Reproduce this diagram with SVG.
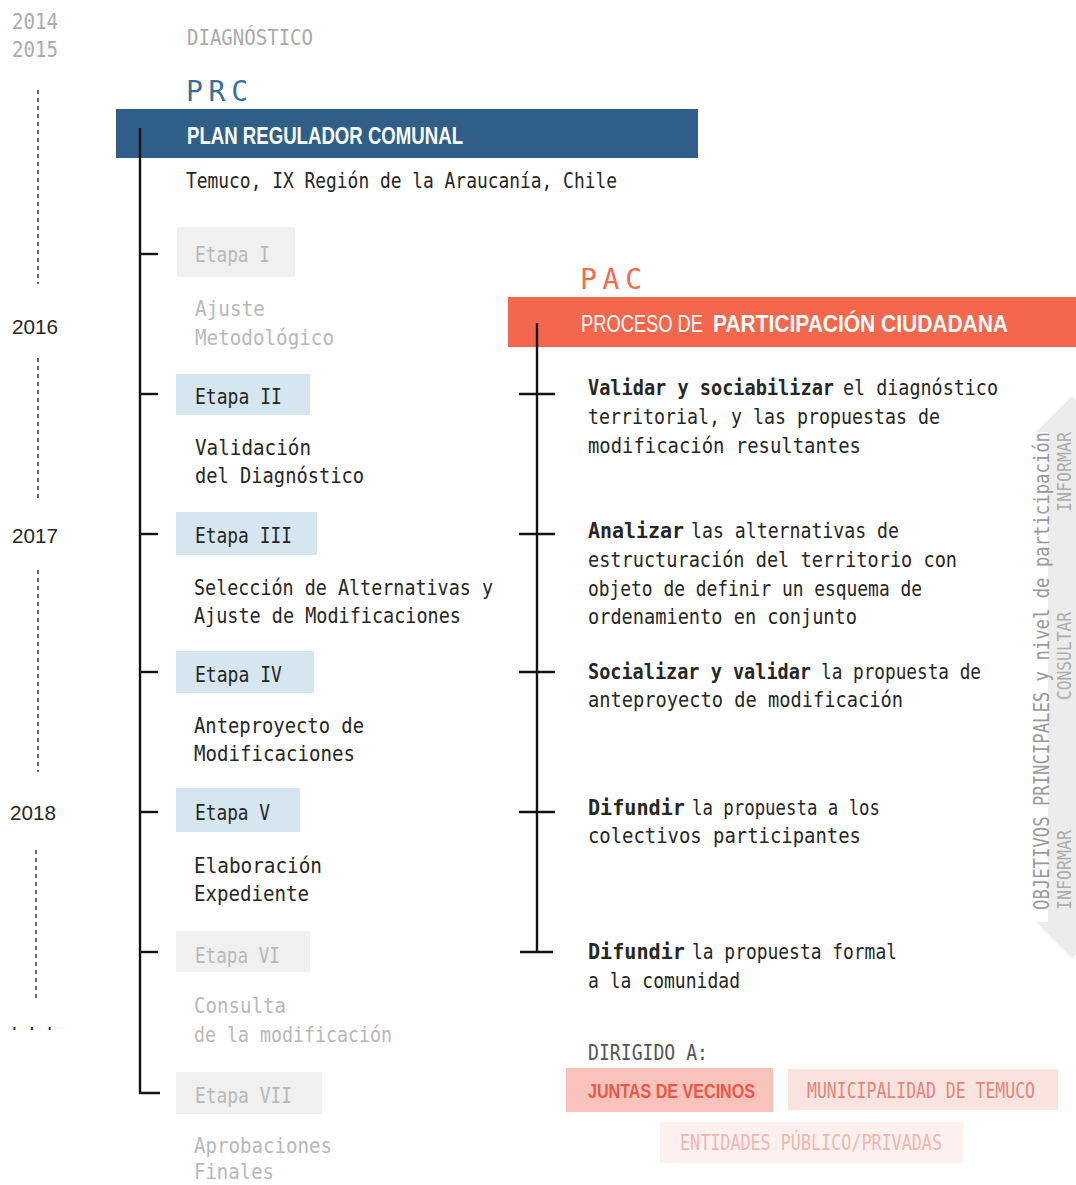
<svg xmlns="http://www.w3.org/2000/svg" width="1076" height="1185" viewBox="0 0 1076 1185">
<style>
.m{font-family:'DejaVu Sans Mono','Liberation Mono',monospace;font-size:22px}
.yr{fill:#aaa}
.dk{fill:#262626}
.lt{fill:#b8b8b8}
.b{font-weight:bold}
.y{font-family:'Liberation Sans','DejaVu Sans',sans-serif;font-size:21px;fill:#262626}
.hd{font-family:'Liberation Sans','DejaVu Sans',sans-serif;font-weight:bold}
.dash{stroke:#444;stroke-width:1.6;stroke-dasharray:4 4;fill:none}
.ln{stroke:#111;stroke-width:2.4;fill:none}
.act{fill:#d5e6f0}
.ina{fill:#f0f0f0}
.sd{font-family:'DejaVu Sans Mono',monospace;font-size:19px;fill:#adadad}
</style>
<rect width="1076" height="1185" fill="#ffffff"/>

<!-- background arrow -->
<polygon points="1072,396 1108,432 1094,432 1094,922 1108,922 1072,958 1036,922 1048,922 1048,432 1036,432" fill="#ececec"/>

<!-- years / timeline -->
<g id="years">
<text class="m yr" x="12" y="29" textLength="46" lengthAdjust="spacingAndGlyphs">2014</text>
<text class="m yr" x="12" y="57" textLength="46" lengthAdjust="spacingAndGlyphs">2015</text>
<text class="y" x="12" y="334" textLength="46" lengthAdjust="spacingAndGlyphs">2016</text>
<text class="y" x="12" y="543" textLength="46" lengthAdjust="spacingAndGlyphs">2017</text>
<text class="y" x="10" y="820" textLength="46" lengthAdjust="spacingAndGlyphs">2018</text>
<text class="m dk" x="10" y="1030" textLength="44" lengthAdjust="spacingAndGlyphs">. . .</text>
<line class="dash" x1="38" y1="90" x2="38" y2="284"/>
<line class="dash" x1="38" y1="358" x2="38" y2="498"/>
<line class="dash" x1="38" y1="570" x2="38" y2="772"/>
<line class="dash" x1="36" y1="850" x2="36" y2="998"/>
</g>

<text class="m yr" x="187" y="45" textLength="126" lengthAdjust="spacingAndGlyphs">DIAGNÓSTICO</text>

<!-- PRC header -->
<g id="prc">
<text x="186" y="101" font-family="'DejaVu Sans Mono',monospace" font-size="28" fill="#3b6f9b" textLength="62" lengthAdjust="spacing">PRC</text>
<rect x="116" y="109" width="582" height="49" fill="#2f5f88"/>
<text class="hd" x="187" y="144" font-size="24" fill="#ffffff" textLength="276" lengthAdjust="spacingAndGlyphs">PLAN REGULADOR COMUNAL</text>
<text class="m dk" x="186" y="188" textLength="431" lengthAdjust="spacingAndGlyphs">Temuco, IX Región de la Araucanía, Chile</text>
</g>

<!-- PAC header -->
<g id="pac">
<text x="580" y="289" font-family="'DejaVu Sans Mono',monospace" font-size="28" fill="#f26a4f" textLength="62" lengthAdjust="spacing">PAC</text>
<rect x="508" y="297" width="568" height="50" fill="#f5674c"/>
<text x="581" y="332" font-family="'Liberation Sans','DejaVu Sans',sans-serif" font-size="24" fill="#ffffff" textLength="122" lengthAdjust="spacingAndGlyphs">PROCESO DE</text>
<text class="hd" x="713" y="332" font-size="24" fill="#ffffff" textLength="295" lengthAdjust="spacingAndGlyphs">PARTICIPACIÓN CIUDADANA</text>
</g>

<!-- connectors -->
<g id="connectors">
<polyline class="ln" points="140,128 140,1093 160,1093"/>
<line class="ln" x1="140" y1="254" x2="158" y2="254"/>
<line class="ln" x1="140" y1="394" x2="158" y2="394"/>
<line class="ln" x1="140" y1="534" x2="158" y2="534"/>
<line class="ln" x1="140" y1="672" x2="158" y2="672"/>
<line class="ln" x1="140" y1="812" x2="158" y2="812"/>
<line class="ln" x1="140" y1="952" x2="158" y2="952"/>
<line class="ln" x1="537" y1="323" x2="537" y2="952"/>
<line class="ln" x1="519" y1="394" x2="555" y2="394"/>
<line class="ln" x1="519" y1="534" x2="555" y2="534"/>
<line class="ln" x1="519" y1="672" x2="555" y2="672"/>
<line class="ln" x1="519" y1="812" x2="555" y2="812"/>
<line class="ln" x1="520" y1="952" x2="553" y2="952"/>
</g>

<!-- Etapas -->
<g id="etapa1">
<rect class="ina" x="177" y="227" width="118" height="50"/>
<text class="m lt" x="195" y="262" textLength="75" lengthAdjust="spacingAndGlyphs">Etapa I</text>
<text class="m lt" x="195" y="316" textLength="70" lengthAdjust="spacingAndGlyphs">Ajuste</text>
<text class="m lt" x="195" y="345" textLength="139" lengthAdjust="spacingAndGlyphs">Metodológico</text>
</g>
<g id="etapa2">
<rect class="act" x="176" y="374" width="134" height="41"/>
<text class="m dk" x="195" y="404" textLength="87" lengthAdjust="spacingAndGlyphs">Etapa II</text>
<text class="m dk" x="195" y="455" textLength="116" lengthAdjust="spacingAndGlyphs">Validación</text>
<text class="m dk" x="195" y="483" textLength="169" lengthAdjust="spacingAndGlyphs">del Diagnóstico</text>
</g>
<g id="etapa3">
<rect class="act" x="176" y="512" width="141" height="43"/>
<text class="m dk" x="195" y="543" textLength="97" lengthAdjust="spacingAndGlyphs">Etapa III</text>
<text class="m dk" x="194" y="595" textLength="299" lengthAdjust="spacingAndGlyphs">Selección de Alternativas y</text>
<text class="m dk" x="194" y="623" textLength="267" lengthAdjust="spacingAndGlyphs">Ajuste de Modificaciones</text>
</g>
<g id="etapa4">
<rect class="act" x="176" y="651" width="138" height="42"/>
<text class="m dk" x="195" y="682" textLength="87" lengthAdjust="spacingAndGlyphs">Etapa IV</text>
<text class="m dk" x="194" y="733" textLength="170" lengthAdjust="spacingAndGlyphs">Anteproyecto de</text>
<text class="m dk" x="194" y="761" textLength="161" lengthAdjust="spacingAndGlyphs">Modificaciones</text>
</g>
<g id="etapa5">
<rect class="act" x="176" y="788" width="124" height="44"/>
<text class="m dk" x="195" y="820" textLength="75" lengthAdjust="spacingAndGlyphs">Etapa V</text>
<text class="m dk" x="194" y="873" textLength="128" lengthAdjust="spacingAndGlyphs">Elaboración</text>
<text class="m dk" x="194" y="901" textLength="115" lengthAdjust="spacingAndGlyphs">Expediente</text>
</g>
<g id="etapa6">
<rect class="ina" x="176" y="931" width="134" height="41"/>
<text class="m lt" x="195" y="963" textLength="85" lengthAdjust="spacingAndGlyphs">Etapa VI</text>
<text class="m lt" x="194" y="1013" textLength="92" lengthAdjust="spacingAndGlyphs">Consulta</text>
<text class="m lt" x="194" y="1042" textLength="198" lengthAdjust="spacingAndGlyphs">de la modificación</text>
</g>
<g id="etapa7">
<rect class="ina" x="176" y="1072" width="146" height="42"/>
<text class="m lt" x="195" y="1103" textLength="97" lengthAdjust="spacingAndGlyphs">Etapa VII</text>
<text class="m lt" x="194" y="1153" textLength="138" lengthAdjust="spacingAndGlyphs">Aprobaciones</text>
<text class="m lt" x="194" y="1179" textLength="80" lengthAdjust="spacingAndGlyphs">Finales</text>
</g>

<!-- objectives -->
<g id="obj1">
<text class="m dk b" x="588" y="395" textLength="246" lengthAdjust="spacingAndGlyphs">Validar y sociabilizar</text>
<text class="m dk" x="843" y="395" textLength="155" lengthAdjust="spacingAndGlyphs">el diagnóstico</text>
<text class="m dk" x="588" y="424" textLength="352" lengthAdjust="spacingAndGlyphs">territorial, y las propuestas de</text>
<text class="m dk" x="588" y="453" textLength="273" lengthAdjust="spacingAndGlyphs">modificación resultantes</text>
</g>
<g id="obj2">
<text class="m dk b" x="588" y="538" textLength="96" lengthAdjust="spacingAndGlyphs">Analizar</text>
<text class="m dk" x="691" y="538" textLength="208" lengthAdjust="spacingAndGlyphs">las alternativas de</text>
<text class="m dk" x="588" y="567" textLength="369" lengthAdjust="spacingAndGlyphs">estructuración del territorio con</text>
<text class="m dk" x="588" y="596" textLength="334" lengthAdjust="spacingAndGlyphs">objeto de definir un esquema de</text>
<text class="m dk" x="588" y="624" textLength="269" lengthAdjust="spacingAndGlyphs">ordenamiento en conjunto</text>
</g>
<g id="obj3">
<text class="m dk b" x="588" y="679" textLength="223" lengthAdjust="spacingAndGlyphs">Socializar y validar</text>
<text class="m dk" x="821" y="679" textLength="160" lengthAdjust="spacingAndGlyphs">la propuesta de</text>
<text class="m dk" x="588" y="707" textLength="315" lengthAdjust="spacingAndGlyphs">anteproyecto de modificación</text>
</g>
<g id="obj4">
<text class="m dk b" x="588" y="815" textLength="97" lengthAdjust="spacingAndGlyphs">Difundir</text>
<text class="m dk" x="692" y="815" textLength="188" lengthAdjust="spacingAndGlyphs">la propuesta a los</text>
<text class="m dk" x="588" y="843" textLength="273" lengthAdjust="spacingAndGlyphs">colectivos participantes</text>
</g>
<g id="obj5">
<text class="m dk b" x="588" y="959" textLength="97" lengthAdjust="spacingAndGlyphs">Difundir</text>
<text class="m dk" x="692" y="959" textLength="205" lengthAdjust="spacingAndGlyphs">la propuesta formal</text>
<text class="m dk" x="588" y="988" textLength="152" lengthAdjust="spacingAndGlyphs">a la comunidad</text>
</g>

<!-- side label -->
<g id="side">
<text x="1049" y="910" transform="rotate(-90 1049 910)" font-family="'DejaVu Sans Mono',monospace" font-size="21" fill="#9a9a9a" textLength="478" lengthAdjust="spacingAndGlyphs">OBJETIVOS PRINCIPALES y nivel de participación</text>
<text class="sd" x="1071" y="910" transform="rotate(-90 1071 910)" textLength="80" lengthAdjust="spacingAndGlyphs">INFORMAR</text>
<text class="sd" x="1071" y="700" transform="rotate(-90 1071 700)" textLength="88" lengthAdjust="spacingAndGlyphs">CONSULTAR</text>
<text class="sd" x="1071" y="512" transform="rotate(-90 1071 512)" textLength="80" lengthAdjust="spacingAndGlyphs">INFORMAR</text>
</g>

<!-- dirigido a -->
<g id="dirigido">
<text class="m" x="588" y="1060" fill="#555" textLength="120" lengthAdjust="spacingAndGlyphs">DIRIGIDO A:</text>
</g>
<g id="juntas">
<rect x="566" y="1068" width="207" height="44" fill="#f9c3ba"/>
<text class="hd" x="588" y="1098" font-size="20" fill="#e8584a" textLength="167" lengthAdjust="spacingAndGlyphs">JUNTAS DE VECINOS</text>
</g>
<g id="municipalidad">
<rect x="788" y="1069" width="270" height="41" fill="#fbe3df"/>
<text class="m" x="807" y="1098" font-size="18" fill="#e4847b" textLength="228" lengthAdjust="spacingAndGlyphs">MUNICIPALIDAD DE TEMUCO</text>
</g>
<g id="entidades">
<rect x="660" y="1122" width="303" height="41" fill="#fdf1ef"/>
<text class="m" x="680" y="1150" font-size="19" fill="#f2b6ae" textLength="262" lengthAdjust="spacingAndGlyphs">ENTIDADES PÚBLICO/PRIVADAS</text>
</g>
</svg>
